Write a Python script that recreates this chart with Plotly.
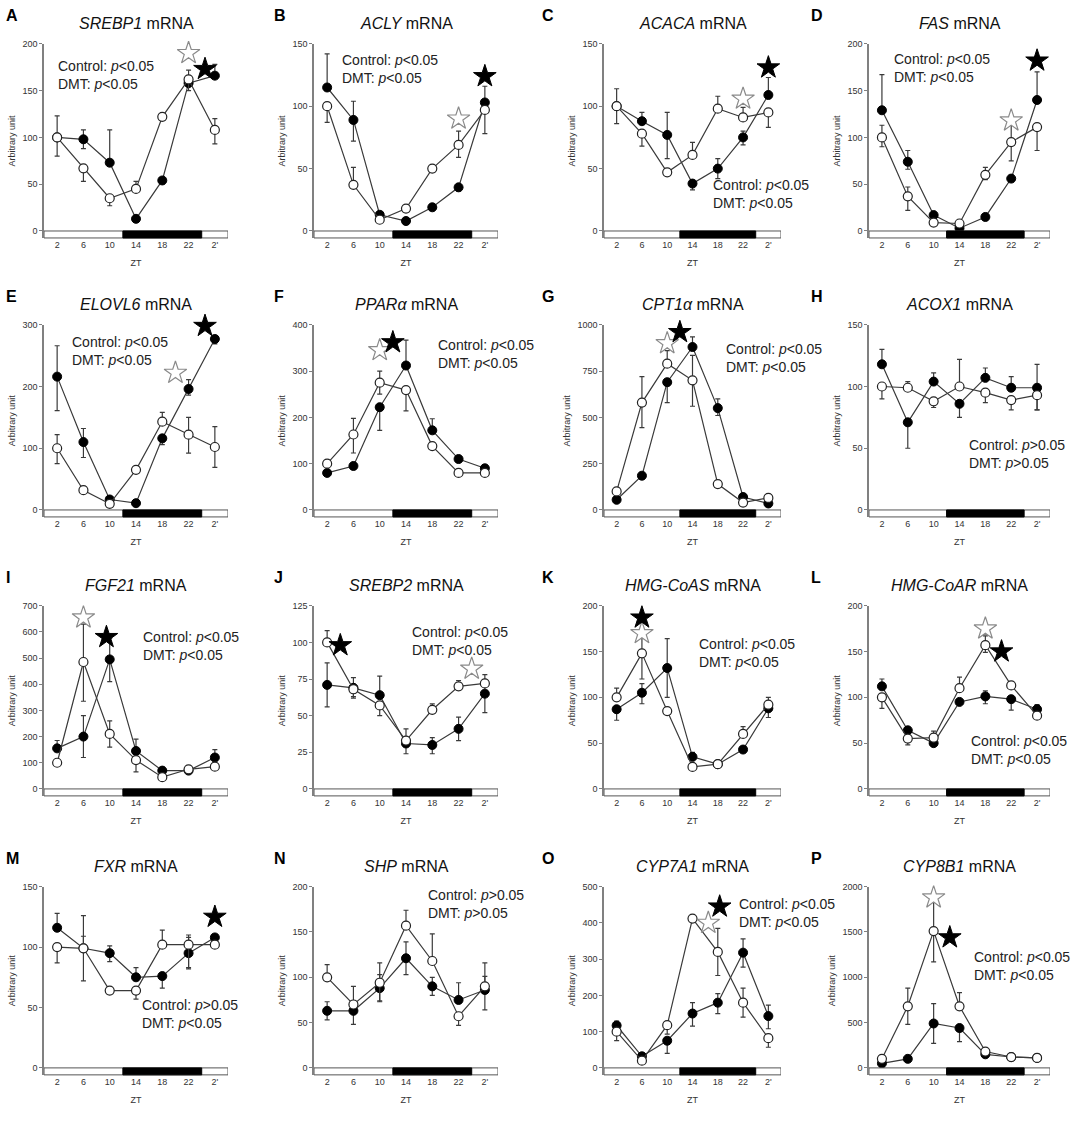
import plotly.graph_objects as go

ZT = [2, 6, 10, 14, 18, 22, 26]
ZT_LABELS = ["2", "6", "10", "14", "18", "22", "2'"]

# ---------------- data (Control = open, DMT = filled) ----------------
A_ctrl = [100, 67, 35, 45, 122, 162, 108]
A_ctrl_up = [23, 0, 0, 8, 0, 10, 12]
A_ctrl_dn = [0, 14, 8, 0, 0, 12, 15]
A_dmt = [100, 98, 73, 13, 54, 158, 166]
A_dmt_up = [0, 10, 35, 0, 0, 0, 12]
A_dmt_dn = [20, 10, 0, 0, 0, 0, 0]

B_ctrl = [100, 37, 9, 18, 50, 69, 97]
B_ctrl_up = [0, 14, 0, 0, 2, 11, 0]
B_ctrl_dn = [13, 0, 0, 0, 0, 10, 0]
B_dmt = [115, 89, 13, 8, 19, 35, 103]
B_dmt_up = [27, 15, 0, 0, 0, 0, 13]
B_dmt_dn = [0, 17, 0, 0, 0, 3, 25]

C_ctrl = [100, 78, 47, 61, 98, 91, 95]
C_ctrl_up = [0, 0, 0, 10, 10, 8, 0]
C_ctrl_dn = [0, 10, 0, 0, 0, 0, 12]
C_dmt = [100, 88, 77, 38, 50, 75, 109]
C_dmt_up = [14, 7, 18, 0, 8, 5, 14]
C_dmt_dn = [14, 0, 19, 5, 8, 6, 0]

D_ctrl = [100, 37, 9, 8, 60, 95, 111]
D_ctrl_up = [13, 10, 0, 0, 8, 20, 0]
D_ctrl_dn = [10, 15, 0, 0, 5, 20, 25]
D_dmt = [129, 74, 17, 3, 15, 56, 140]
D_dmt_up = [38, 12, 0, 0, 0, 0, 30]
D_dmt_dn = [0, 8, 0, 0, 0, 0, 0]

E_ctrl = [100, 32, 10, 65, 143, 122, 102]
E_ctrl_up = [22, 0, 0, 0, 15, 28, 33]
E_ctrl_dn = [25, 0, 0, 0, 0, 30, 33]
E_dmt = [216, 110, 17, 11, 116, 196, 277]
E_dmt_up = [50, 22, 0, 0, 0, 15, 5]
E_dmt_dn = [55, 25, 0, 0, 10, 10, 8]

F_ctrl = [100, 163, 275, 259, 138, 80, 80]
F_ctrl_up = [0, 35, 25, 0, 0, 0, 0]
F_ctrl_dn = [0, 40, 25, 45, 0, 0, 0]
F_dmt = [80, 95, 222, 312, 172, 110, 90]
F_dmt_up = [0, 0, 0, 55, 25, 0, 0]
F_dmt_dn = [0, 0, 50, 0, 0, 0, 0]

G_ctrl = [100, 580, 790, 700, 140, 40, 65]
G_ctrl_up = [0, 140, 70, 135, 0, 0, 0]
G_ctrl_dn = [0, 135, 0, 140, 0, 0, 0]
G_dmt = [55, 185, 690, 880, 550, 70, 35]
G_dmt_up = [0, 0, 0, 55, 50, 0, 0]
G_dmt_dn = [0, 0, 110, 0, 40, 0, 0]

H_ctrl = [100, 99, 88, 100, 95, 89, 93]
H_ctrl_up = [0, 5, 0, 22, 0, 0, 0]
H_ctrl_dn = [10, 0, 5, 0, 8, 8, 12]
H_dmt = [118, 71, 104, 86, 107, 99, 99]
H_dmt_up = [12, 0, 7, 0, 8, 9, 19]
H_dmt_dn = [0, 21, 0, 11, 0, 0, 18]

I_ctrl = [100, 485, 210, 110, 45, 75, 85]
I_ctrl_up = [0, 145, 50, 0, 0, 0, 0]
I_ctrl_dn = [0, 150, 50, 45, 0, 0, 0]
I_dmt = [155, 200, 495, 145, 70, 70, 120]
I_dmt_up = [30, 80, 80, 45, 0, 0, 30]
I_dmt_dn = [0, 80, 85, 0, 0, 0, 0]

J_ctrl = [100, 68, 57, 33, 54, 70, 72]
J_ctrl_up = [8, 0, 0, 8, 4, 4, 0]
J_ctrl_dn = [0, 5, 7, 0, 0, 0, 0]
J_dmt = [71, 69, 64, 31, 30, 41, 65]
J_dmt_up = [15, 7, 13, 0, 5, 8, 13]
J_dmt_dn = [15, 7, 0, 7, 6, 8, 13]

K_ctrl = [100, 148, 85, 24, 27, 60, 92]
K_ctrl_up = [10, 20, 0, 0, 0, 8, 8]
K_ctrl_dn = [0, 28, 0, 0, 0, 0, 0]
K_dmt = [87, 105, 132, 35, 27, 43, 88]
K_dmt_up = [0, 10, 32, 5, 0, 0, 0]
K_dmt_dn = [12, 12, 32, 0, 0, 0, 10]

L_ctrl = [100, 55, 56, 110, 157, 113, 80]
L_ctrl_up = [0, 0, 7, 12, 10, 0, 0]
L_ctrl_dn = [12, 7, 0, 0, 8, 0, 0]
L_dmt = [112, 64, 50, 95, 101, 98, 87]
L_dmt_up = [8, 0, 0, 0, 6, 0, 5]
L_dmt_dn = [0, 0, 0, 0, 8, 12, 0]

M_ctrl = [100, 99, 64, 64, 102, 102, 102]
M_ctrl_up = [0, 27, 0, 0, 12, 6, 0]
M_ctrl_dn = [13, 27, 0, 7, 0, 20, 0]
M_dmt = [116, 99, 95, 75, 76, 95, 108]
M_dmt_up = [12, 10, 6, 8, 0, 15, 0]
M_dmt_dn = [0, 0, 7, 0, 10, 12, 0]

N_ctrl = [100, 70, 94, 157, 118, 57, 90]
N_ctrl_up = [14, 20, 22, 17, 30, 0, 26]
N_ctrl_dn = [0, 0, 20, 0, 0, 10, 0]
N_dmt = [63, 63, 88, 121, 90, 75, 86]
N_dmt_up = [10, 0, 15, 18, 10, 19, 15]
N_dmt_dn = [10, 15, 15, 18, 10, 0, 22]

O_ctrl = [100, 20, 118, 412, 320, 180, 82]
O_ctrl_up = [0, 0, 0, 10, 65, 40, 0]
O_ctrl_dn = [25, 0, 25, 0, 65, 40, 25]
O_dmt = [117, 32, 75, 150, 180, 318, 143]
O_dmt_up = [12, 0, 0, 30, 25, 38, 30]
O_dmt_dn = [0, 0, 35, 35, 30, 40, 35]

P_ctrl = [100, 680, 1510, 680, 180, 120, 110]
P_ctrl_up = [0, 200, 330, 150, 0, 0, 0]
P_ctrl_dn = [0, 200, 340, 0, 0, 0, 0]
P_dmt = [50, 100, 490, 440, 150, 120, 110]
P_dmt_up = [0, 0, 220, 0, 0, 0, 0]
P_dmt_dn = [0, 0, 220, 150, 0, 0, 0]

GENES = ["SREBP1", "ACLY", "ACACA", "FAS", "ELOVL6", "PPARα", "CPT1α", "ACOX1",
         "FGF21", "SREBP2", "HMG-CoAS", "HMG-CoAR", "FXR", "SHP", "CYP7A1", "CYP8B1"]
LETTERS = list("ABCDEFGHIJKLMNOP")
Y_MAX = [200, 150, 150, 200, 300, 400, 1000, 150, 700, 125, 200, 200, 150, 200, 500, 2000]
Y_DTICK = [50, 50, 50, 50, 100, 100, 250, 50, 100, 25, 50, 50, 50, 50, 100, 500]
P_CTRL = ["<", "<", "<", "<", "<", "<", "<", ">", "<", "<", "<", "<", ">", ">", "<", "<"]
P_DMT = ["<", "<", "<", "<", "<", "<", "<", ">", "<", "<", "<", "<", "<", ">", "<", "<"]
# significance stars: (ZT, value)
OPEN_STARS = {"A": [(22, 190)], "B": [(22, 90)], "C": [(22, 106)], "D": [(22, 118)],
              "E": [(20, 222)], "F": [(10, 345)], "G": [(10, 900)], "I": [(6, 655)],
              "J": [(24, 82)], "K": [(6, 170)], "L": [(18, 175)], "O": [(16.5, 400)],
              "P": [(10, 1880)]}
FILLED_STARS = {"A": [(24.5, 173)], "B": [(26, 124)], "C": [(26, 131)], "D": [(26, 182)],
                "E": [(24.5, 298)], "F": [(12, 362)], "G": [(12, 960)], "I": [(9.5, 580)],
                "J": [(4, 98)], "K": [(6, 187)], "L": [(20.5, 150)], "M": [(26, 125)],
                "O": [(18.3, 445)], "P": [(12.5, 1440)]}
# statistics text placement (ZT of left edge, centre value)
TEXT_POS = {"A": (1.8, 167), "B": (4, 130), "C": (17, 30), "D": (3.5, 174),
            "E": (4, 257), "F": (18.5, 337), "G": (19, 820), "H": (15.2, 45),
            "I": (14.8, 545), "J": (14.6, 101), "K": (14.7, 148), "L": (15.5, 43),
            "M": (14.6, 45), "N": (17, 181), "O": (21, 428), "P": (16, 1130)}

DATA = {}
for L in LETTERS:
    g = globals()
    DATA[L] = dict(ctrl=g[L + "_ctrl"], ctrl_up=g[L + "_ctrl_up"], ctrl_dn=g[L + "_ctrl_dn"],
                   dmt=g[L + "_dmt"], dmt_up=g[L + "_dmt_up"], dmt_dn=g[L + "_dmt_dn"])

# ---------------- layout geometry (pixels) ----------------
W, H = 1084, 1134
COL_X0 = [44, 314, 604, 869]
COL_W = [184, 184, 177, 181]
LETTER_X = [4, 272, 540, 809]
ROW_TOP0, ROW_TOP_STEP = 39, 282.2
ROW_ZERO0, ROW_ZERO_STEP = 227, 280.2
LETTER_Y0, TITLE_Y0, LABEL_STEP = 11, 19, 282
BAR_H = 7
FONT = "Liberation Sans, Arial, sans-serif"
LINE_C = "#3a3a3a"
AXIS_C = "#808080"

fig = go.Figure()
annotations = []
shapes = []

for i, L in enumerate(LETTERS):
    r, c = divmod(i, 4)
    n = i + 1
    xa = "x" if n == 1 else f"x{n}"
    ya = "y" if n == 1 else f"y{n}"
    top = ROW_TOP0 + r * ROW_TOP_STEP
    zero = ROW_ZERO0 + r * ROW_ZERO_STEP
    bottom = zero + BAR_H
    x0 = COL_X0[c]
    x1 = x0 + COL_W[c]
    ymax = Y_MAX[i]
    ymin = -ymax * BAR_H / (zero - top)
    d = DATA[L]

    xkey = "xaxis" if n == 1 else f"xaxis{n}"
    ykey = "yaxis" if n == 1 else f"yaxis{n}"
    fig.layout[xkey] = dict(
        domain=[x0 / W, x1 / W], anchor=ya, range=[0, 28],
        showline=False, showgrid=False, zeroline=False, ticks="",
        tickvals=ZT, ticktext=ZT_LABELS, tickfont=dict(size=9, color="#333", family=FONT),
        title=dict(text="ZT", font=dict(size=9, color="#333", family=FONT), standoff=10),
    )
    fig.layout[ykey] = dict(
        domain=[1 - bottom / H, 1 - top / H], anchor=xa, range=[ymin, ymax],
        showline=True, linecolor=AXIS_C, linewidth=1.5, showgrid=False, zeroline=False,
        ticks="outside", ticklen=3, tickcolor=AXIS_C, tickwidth=1,
        tickmode="linear", tick0=0, dtick=Y_DTICK[i],
        tickfont=dict(size=9, color="#333", family=FONT),
        title=dict(text="Arbitrary unit", font=dict(size=9, color="#333", family=FONT), standoff=5),
    )

    # light/dark bar
    bar_frac = BAR_H / (bottom - top)
    shapes.append(dict(type="rect", xref=xa, yref=f"{ya} domain", x0=0, x1=28, y0=0, y1=bar_frac,
                       fillcolor="white", line=dict(color="#555", width=1), layer="above"))
    shapes.append(dict(type="rect", xref=xa, yref=f"{ya} domain", x0=12, x1=24, y0=0, y1=bar_frac,
                       fillcolor="black", line=dict(color="black", width=1), layer="above"))

    # DMT (filled)
    fig.add_trace(go.Scatter(
        x=ZT, y=d["dmt"], mode="lines+markers", xaxis=xa, yaxis=ya, cliponaxis=False,
        line=dict(color=LINE_C, width=1.2),
        marker=dict(symbol="circle", size=9, color="black", line=dict(color="black", width=1)),
        error_y=dict(type="data", symmetric=False, array=d["dmt_up"], arrayminus=d["dmt_dn"],
                     color=LINE_C, thickness=1.2, width=2.5),
        showlegend=False, name="DMT"))
    # Control (open)
    fig.add_trace(go.Scatter(
        x=ZT, y=d["ctrl"], mode="lines+markers", xaxis=xa, yaxis=ya, cliponaxis=False,
        line=dict(color=LINE_C, width=1.2),
        marker=dict(symbol="circle", size=9, color="white", line=dict(color="#222", width=1.2)),
        error_y=dict(type="data", symmetric=False, array=d["ctrl_up"], arrayminus=d["ctrl_dn"],
                     color=LINE_C, thickness=1.2, width=2.5),
        showlegend=False, name="Control"))

    if L in OPEN_STARS:
        pts = OPEN_STARS[L]
        fig.add_trace(go.Scatter(
            x=[p[0] for p in pts], y=[p[1] for p in pts], mode="markers", xaxis=xa, yaxis=ya,
            cliponaxis=False, showlegend=False,
            marker=dict(symbol="star", size=17, color="white", line=dict(color="#8a8a8a", width=1.2))))
    if L in FILLED_STARS:
        pts = FILLED_STARS[L]
        fig.add_trace(go.Scatter(
            x=[p[0] for p in pts], y=[p[1] for p in pts], mode="markers", xaxis=xa, yaxis=ya,
            cliponaxis=False, showlegend=False,
            marker=dict(symbol="star", size=17, color="black", line=dict(color="black", width=1))))

    # panel letter
    ly = LETTER_Y0 + r * LABEL_STEP
    ty_ = TITLE_Y0 + r * LABEL_STEP
    annotations.append(dict(text=f"<b>{L}</b>", xref="paper", yref="paper",
                            x=LETTER_X[c] / W, y=1 - ly / H, xanchor="left", yanchor="middle",
                            showarrow=False, font=dict(size=16, color="black", family=FONT)))
    # title
    annotations.append(dict(text=f"<i>{GENES[i]}</i> mRNA", xref="paper", yref="paper",
                            x=(x0 + x1) / 2 / W, y=1 - ty_ / H, xanchor="center", yanchor="middle",
                            showarrow=False, font=dict(size=16, color="#111", family=FONT)))
    # statistics text
    tx, ty = TEXT_POS[L]
    pc = "&lt;" if P_CTRL[i] == "<" else "&gt;"
    pd_ = "&lt;" if P_DMT[i] == "<" else "&gt;"
    annotations.append(dict(text=f"Control: <i>p</i>{pc}0.05<br>DMT: <i>p</i>{pd_}0.05",
                            xref=xa, yref=ya, x=tx, y=ty, xanchor="left", yanchor="middle",
                            align="left", showarrow=False,
                            font=dict(size=14, color="#222", family=FONT)))

fig.update_layout(
    width=W, height=H, margin=dict(l=0, r=0, t=0, b=0),
    paper_bgcolor="white", plot_bgcolor="white",
    annotations=annotations, shapes=shapes, showlegend=False,
    font=dict(family=FONT),
)

fig.write_html("out.html", config={"displayModeBar": False},
               post_script="document.body.style.margin='0px';")
